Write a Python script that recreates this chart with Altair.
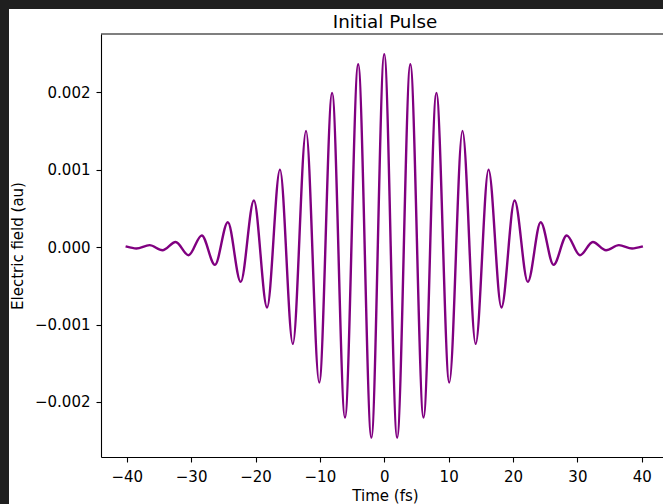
import altair as alt
import pandas as pd

# Extrema of the pulse (time in fs, field in au)
time_fs = [-40.0, -38.5, -36.45, -34.45, -32.4, -30.4, -28.35, -26.3, -24.3, -22.3,
           -20.25, -18.2, -16.2, -14.2, -12.15, -10.1, -8.1, -6.1, -4.05, -2.0,
           0.0,
           2.0, 4.05, 6.1, 8.1, 10.1, 12.15, 14.2, 16.2, 18.2, 20.25,
           22.3, 24.3, 26.3, 28.35, 30.4, 32.4, 34.45, 36.45, 38.5, 40.0]
field_au = [0.000005, -0.000018, 0.000025, -0.000042, 0.000065, -0.000105, 0.00015, -0.00023, 0.00032, -0.00045,
            0.00060, -0.00078, 0.00100, -0.00125, 0.00150, -0.00175, 0.00199, -0.00220, 0.00236, -0.00246,
            0.00249,
            -0.00246, 0.00236, -0.00220, 0.00199, -0.00175, 0.00150, -0.00125, 0.00100, -0.00078, 0.00060,
            -0.00045, 0.00032, -0.00023, 0.00015, -0.000105, 0.000065, -0.000042, 0.000025, -0.000018, 0.000005]

x_ticks = [-40, -30, -20, -10, 0, 10, 20, 30, 40]
y_ticks = [-0.002, -0.001, 0.0, 0.001, 0.002]

df = pd.DataFrame({"t": time_fs, "E": field_au})

FONT = "DejaVu Sans"
axis_common = dict(
    domainColor="black", domainWidth=1.1, tickColor="black", tickWidth=1.1, tickSize=5,
    labelFont=FONT, labelFontSize=15, labelColor="black", labelFlush=False, labelOverlap=False,
    titleFont=FONT, titleFontSize=15, titleFontWeight="normal", titleColor="black",
    grid=False, zindex=1,
)

x_axis = alt.Axis(values=x_ticks, format="d", title="Time (fs)", labelPadding=7,
                  titleX=284, titleY=43.5, titleAlign="center", titleBaseline="alphabetic",
                  **axis_common)
y_axis = alt.Axis(values=y_ticks, format=".3f", title="Electric field (au)", labelPadding=6,
                  titleX=-84, titleY=211.5, titleAngle=270, titleAlign="center",
                  titleBaseline="middle", **axis_common)

W, H = 562, 423

bg = alt.Chart(alt.Data(values=[{}])).mark_rect(color="white", clip=False).encode(
    x=alt.value(-92), x2=alt.value(W), y=alt.value(-25), y2=alt.value(H + 47)
)
top_spine = alt.Chart(alt.Data(values=[{}])).mark_rule(color="black", strokeWidth=1.1).encode(
    x=alt.value(0), x2=alt.value(W), y=alt.value(0)
)
line = alt.Chart(df).mark_line(
    color="#800080", strokeWidth=2.4, interpolate="monotone", strokeCap="square"
).encode(
    x=alt.X("t:Q", scale=alt.Scale(domain=[-44, 43.3], nice=False, zero=False), axis=x_axis),
    y=alt.Y("E:Q", scale=alt.Scale(domain=[-0.00271, 0.00275], nice=False, zero=False), axis=y_axis),
)

chart = alt.layer(bg, top_spine, line).properties(
    width=W, height=H,
    title=alt.TitleParams(text="Initial Pulse", font=FONT, fontSize=18.3, fontWeight="normal",
                          color="black", anchor="middle", frame="group", baseline="alphabetic",
                          offset=-37, dx=3, zindex=1),
    background="#1f1f1f",
    padding={"left": 101, "top": 34, "right": 0, "bottom": 47},
    autosize=alt.AutoSizeParams(type="none"),
).configure_view(stroke="transparent")

chart.save("out.html", embed_options={"renderer": "svg", "actions": False})
